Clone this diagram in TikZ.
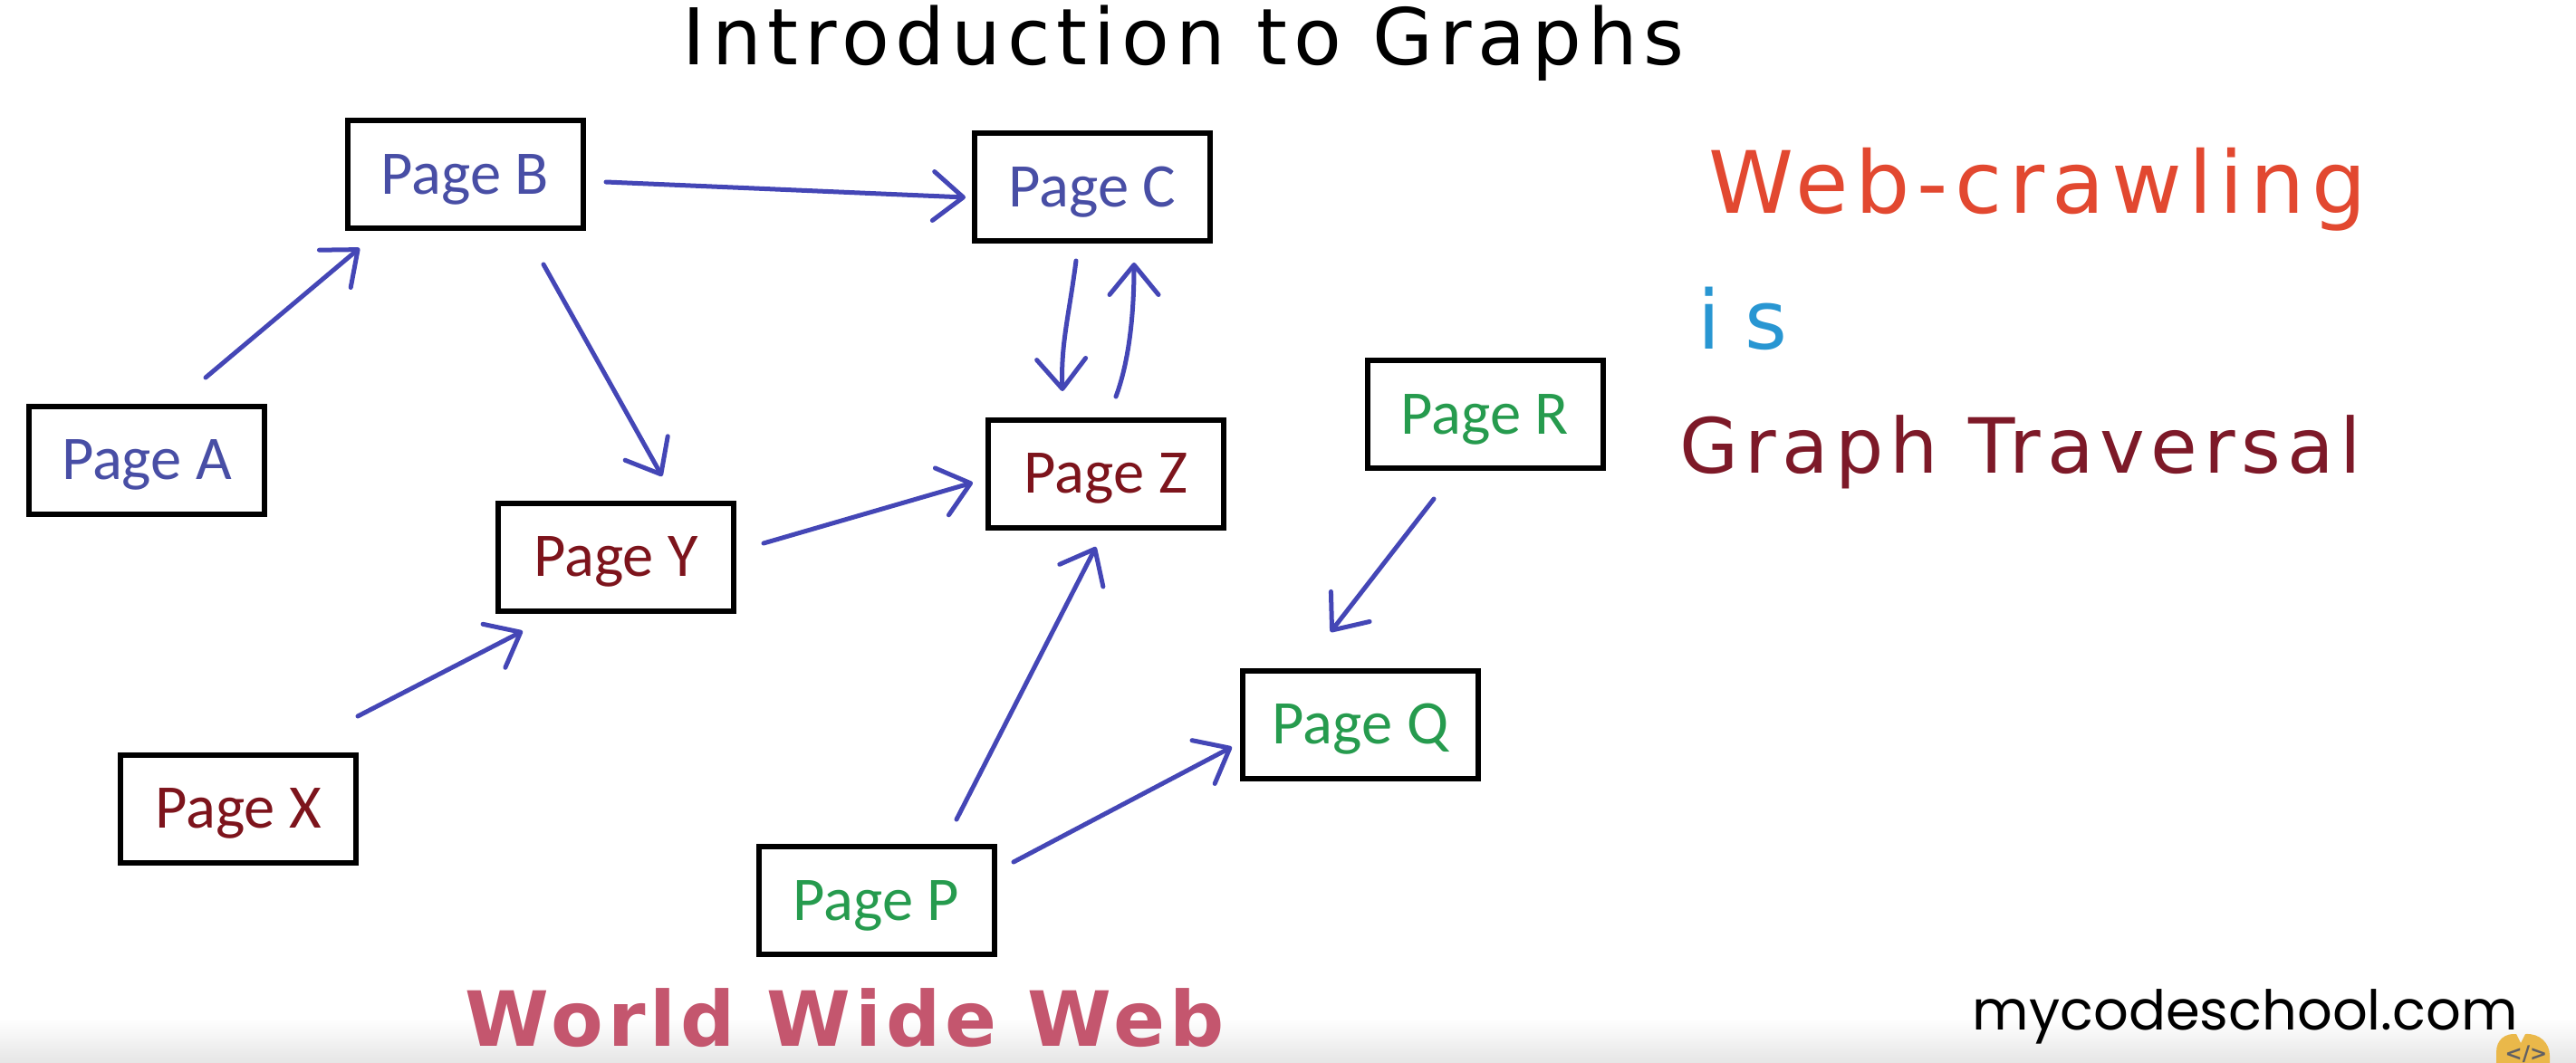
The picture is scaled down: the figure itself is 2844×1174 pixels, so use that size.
\documentclass[tikz,border=0pt]{standalone}
\usepackage{fontspec}
\usepackage{graphicx}
\setmainfont{Carlito}
\newfontfamily\pagefont{Carlito}
\newfontfamily\titlehand[LetterSpace=8]{DejaVu Sans}
\newfontfamily\webhand[LetterSpace=8]{DejaVu Sans}
\newfontfamily\ishand[LetterSpace=30]{DejaVu Sans}
\newfontfamily\graphhand[LetterSpace=8]{DejaVu Sans}
\newfontfamily\wwwhand[LetterSpace=6]{DejaVu Sans}
\newfontfamily\logofont{Poppins}
\newfontfamily\codefont{DejaVu Sans}
\usetikzlibrary{arrows.meta,calc}
\definecolor{linkblue}{RGB}{68,70,182}
\definecolor{txtblue}{RGB}{72,78,165}
\definecolor{txtred}{RGB}{125,20,28}
\definecolor{txtgreen}{RGB}{38,155,78}
\definecolor{webred}{RGB}{226,72,48}
\definecolor{isblue}{RGB}{40,150,210}
\definecolor{gtred}{RGB}{125,25,40}
\definecolor{wwwrose}{RGB}{196,86,110}
\definecolor{logoyellow}{RGB}{234,184,74}
\definecolor{logogray}{RGB}{95,95,100}
\begin{document}
\begin{tikzpicture}[x=0.1mm,y=-0.1mm,
  pagebox/.style={draw=black, line width=0.6mm, minimum width=26mm, minimum height=11.9mm,
    inner sep=0pt, font=\pagefont\fontsize{19.5pt}{22pt}\selectfont,
    text height=12.5pt, text depth=0pt},
  bluetxt/.style={text=txtblue},
  redtxt/.style={text=txtred},
  greentxt/.style={text=txtgreen},
  link/.style={draw=linkblue, line width=0.5mm, line cap=round, line join=round,
    -{Straight Barb[length=3.3mm,width=5.4mm,round]}},
  hand/.style={anchor=base west, inner sep=0pt}]
\useasboundingbox (0,0) rectangle (2844,1174);
\fill[white] (0,0) rectangle (2844,1174);
\shade[top color=white, bottom color=black!10] (0,1125) rectangle (2844,1174);

% title and notes
\node[hand] (title) at (753,72) {\resizebox{110.6mm}{!}{\titlehand Introduction to Graphs}};
\node[hand, text=webred] (webcrawl) at (1886,236) {\resizebox{72.6mm}{!}{\webhand Web-crawling}};
\node[hand, text=isblue] (is) at (1874,385) {\resizebox{9.9mm}{!}{\ishand is}};
\node[hand, text=gtred] (traversal) at (1854,522) {\resizebox{75.2mm}{!}{\graphhand Graph Traversal}};
\node[hand, text=wwwrose] (www) at (513,1155) {\resizebox{83.8mm}{!}{\wwwhand\bfseries World Wide Web}};
\node[hand, text depth=0pt] (site) at (2177,1137) {\resizebox{60.2mm}{!}{\logofont mycodeschool.com}};

% logo
\fill[logoyellow] (2756,1174) -- (2756,1162) .. controls (2756,1148) and (2766,1141) .. (2778,1142)
  -- (2783,1152) -- (2788,1142) .. controls (2804,1141) and (2815,1152) .. (2815,1166) -- (2815,1174) -- cycle;
\node[text=logogray, font=\codefont\bfseries\fontsize{6.5pt}{7pt}\selectfont, inner sep=0pt] (logo) at (2789,1164) {</>};

% pages
\node[pagebox, bluetxt] (A) at (162,508) {Page A};
\node[pagebox, bluetxt] (B) at (513.5,192.5) {Page B};
\node[pagebox, bluetxt] (C) at (1206,207) {Page C};
\node[pagebox, redtxt] (Z) at (1221,523) {Page Z};
\node[pagebox, redtxt] (Y) at (680,615) {Page Y};
\node[pagebox, redtxt] (X) at (263,893) {Page X};
\node[pagebox, greentxt] (R) at (1639.5,457.5) {Page R};
\node[pagebox, greentxt] (Q) at (1502,800) {Page Q};
\node[pagebox, greentxt] (P) at (967.5,994.5) {Page P};

% links
\draw[link] ($(A.north)+(65,-28.5)$) -- ($(B.south)+(-116.5,19)$);
\draw[link] ($(B.east)+(22.5,8.5)$) -- ($(C.west)+(-7,11)$);
\draw[link] ($(B.south)+(86.5,37)$) -- ($(Y.north)+(51,-26.5)$);
\draw[link] ($(C.south)+(-18,18.5)$) .. controls ($(C.south)+(-26,80)$) and ($(Z.north)+(-50,-80)$) .. ($(Z.north)+(-48,-28.5)$);
\draw[link] ($(Z.north)+(11,-22.5)$) .. controls ($(Z.north)+(25,-60)$) and ($(C.south)+(46,80)$) .. ($(C.south)+(46,20.5)$);
\draw[link] ($(Y.east)+(30,-15)$) -- ($(Z.west)+(-14,10)$);
\draw[link] ($(X.north)+(132,-39.5)$) -- ($(Y.south)+(-103,19.5)$);
\draw[link] ($(P.north)+(88.5,-27)$) -- ($(Z.south)+(-11,18.5)$);
\draw[link] ($(P.east)+(18.5,-42.5)$) -- ($(Q.west)+(-9,25)$);
\draw[link] ($(R.south)+(-56.5,31)$) -- ($(Q.north)+(-33,-39.5)$);
\end{tikzpicture}
\end{document}
